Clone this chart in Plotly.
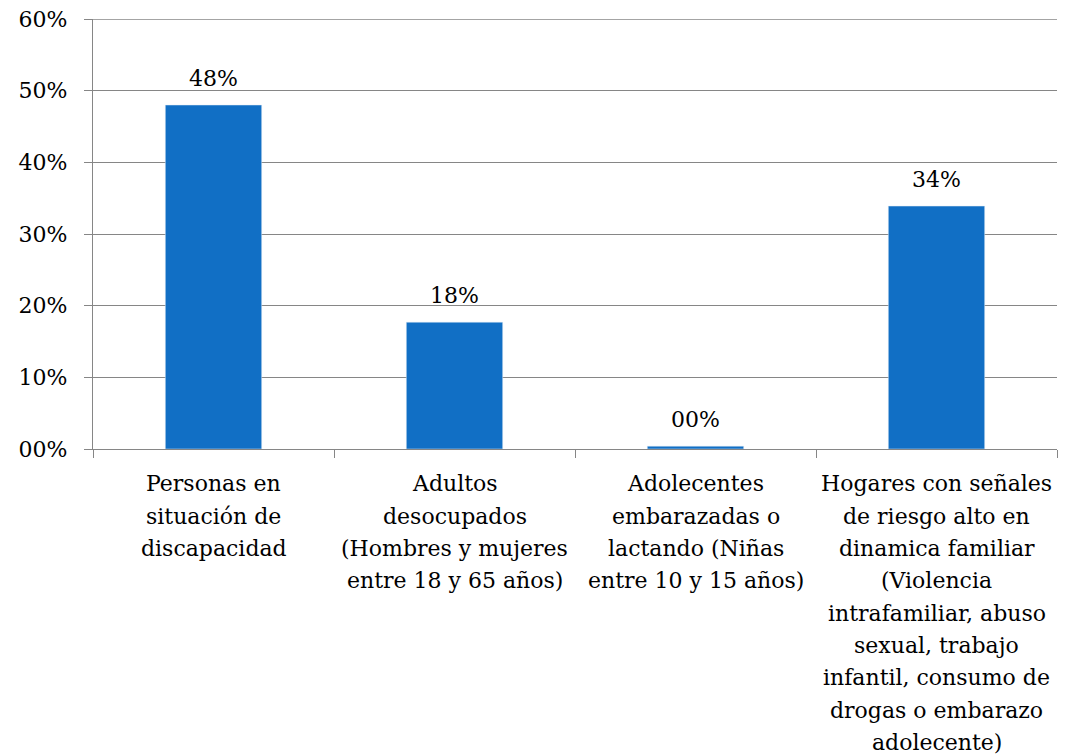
import plotly.graph_objects as go

# -----------------------------------------
# DATA
# -----------------------------------------
categories = [
    "Personas en situación de discapacidad",
    "Adultos desocupados",
    "Adolecentes embarazadas o lactando",
    "Hogares con señales de riesgo alto",
]
category_lines = [
    ["Personas en", "situación de", "discapacidad"],
    ["Adultos", "desocupados", "(Hombres y mujeres", "entre 18 y 65 años)"],
    ["Adolecentes", "embarazadas o", "lactando (Niñas", "entre 10 y 15 años)"],
    ["Hogares con señales", "de riesgo alto en", "dinamica familiar", "(Violencia",
     "intrafamiliar, abuso", "sexual, trabajo", "infantil, consumo de",
     "drogas o embarazo", "adolecente)"],
]
values = [0.48, 0.177, 0.004, 0.339]
value_labels = ["48%", "18%", "00%", "34%"]

tick_vals = [0, 0.1, 0.2, 0.3, 0.4, 0.5, 0.6]
tick_text = ["00%", "10%", "20%", "30%", "40%", "50%", "60%"]

# -----------------------------------------
# STYLE
# -----------------------------------------
FONT = "DejaVu Serif"
GRID = "#868686"
SIZE = 22
PLOT_H = 430          # plot area height in px
LINE_GAP = 32.3       # label line spacing in px
FIRST_LINE = 35       # first label line centre below the axis, px

fig = go.Figure()

fig.add_trace(go.Bar(
    x=categories,
    y=values,
    marker_color="#116FC5",
    hoverinfo="x+y",
))

# value labels above each bar
for cat, val, lab in zip(categories, values, value_labels):
    fig.add_annotation(
        x=cat, y=val, text=lab,
        showarrow=False, yanchor="middle", yshift=27,
        font=dict(family=FONT, size=SIZE, color="black"),
    )

# category labels, one line each so the line spacing matches
for cat, lines in zip(categories, category_lines):
    for i, line in enumerate(lines):
        fig.add_annotation(
            x=cat, xref="x",
            y=-(FIRST_LINE + i * LINE_GAP) / PLOT_H, yref="paper",
            text=line, showarrow=False, yanchor="middle",
            font=dict(family=FONT, size=SIZE, color="black"),
        )

# top gridline sits on the plot edge, plotly skips it there
fig.add_shape(
    type="line", xref="paper", x0=0, x1=1, yref="y", y0=tick_vals[-1], y1=tick_vals[-1],
    line=dict(color=GRID, width=1.3),
)

fig.update_layout(
    width=1069, height=755,
    margin=dict(l=93, r=12, t=19, b=306, autoexpand=False),
    paper_bgcolor="white",
    plot_bgcolor="white",
    bargap=0.6,
    showlegend=False,
    font=dict(family=FONT, size=SIZE, color="black"),
)

fig.update_yaxes(
    range=[0, 0.6],
    tickvals=tick_vals,
    ticktext=tick_text,
    showgrid=True, gridcolor=GRID, gridwidth=1.3,
    showline=True, linecolor=GRID, linewidth=1.3,
    ticks="outside", ticklen=8, tickcolor=GRID, tickwidth=1.3,
    ticklabelstandoff=12,
    zeroline=False,
    automargin=False,
    tickfont=dict(family=FONT, size=SIZE),
)

fig.update_xaxes(
    showline=True, linecolor=GRID, linewidth=1.3,
    ticks="outside", ticklen=8, tickcolor=GRID, tickwidth=1.3,
    tickson="boundaries",
    showticklabels=False,
    automargin=False,
)

# drop the default 8px page margin so the figure sits at the window corner
fig.write_html(
    "out.html",
    config={"displayModeBar": False},
    post_script="document.body.style.margin = '0';",
)
